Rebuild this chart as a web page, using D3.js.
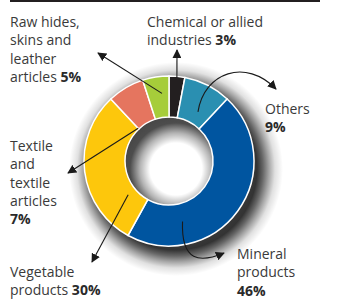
<!DOCTYPE html>
<html>
<head>
<meta charset="utf-8">
<script src="https://cdn.jsdelivr.net/npm/d3@7"></script>
<style>
  body { margin: 0; background: #fff; }
  text { font-family: "Open Sans", sans-serif; fill: #3a3a3a; }
  .pct { font-weight: 700; fill: #2a2a2a; }
</style>
</head>
<body>
<div id="container"></div>
<script>
/* DATA */
const categories = ["Chemical or allied industries", "Others", "Mineral products",
  "Vegetable products", "Textile and textile articles", "Raw hides, skins and leather articles"];
const shares = [3, 9, 46, 30, 7, 5];
const colors = ["#231f20", "#2a8fb1", "#0055a0", "#fdc70c", "#e5755f", "#a6cd3a"];
// label lines; an empty last line means the share sits on its own line
const labelLines = [
  ["Chemical or allied", "industries"],
  ["Others", ""],
  ["Mineral", "products", ""],
  ["Vegetable", "products"],
  ["Textile", "and", "textile", "articles", ""],
  ["Raw hides,", "skins and", "leather", "articles"]
];

/* CONSTANTS */
const width = 346, height = 300,
  cx = 169, cy = 161,
  outerR = 85, innerR = 44,
  lineH = 18.3,
  shadowDx = 7, shadowDy = 8, shadowSpread = 22;

// label anchors (x, first baseline)
const labelPos = [[147, 27], [265, 114], [237, 259], [10, 277], [10, 151], [10, 27]];
// arrow: start on slice (fraction along slice angle, radius), tip and optional curve controls
const arrows = [
  { f: 0.5, r: 84, tip: [177, 50] },
  { f: 0.61, r: 57, tip: [276, 89], c: [[204, 72], [246, 58]] },
  { f: 0.75, r: 62, tip: [224, 253], c: [[181, 262], [200, 263]] },
  { f: 0.2, r: 53, tip: [92, 262] },
  { f: 0.0, r: 45, tip: [68, 173] },
  { f: 0.67, r: 68, tip: [98, 53] }
];

const data = categories.map((c, i) => ({ name: c, value: shares[i], color: colors[i] }));

const svg = d3.select("#container").append("svg")
  .attr("width", width).attr("height", height);

const defs = svg.append("defs");

// soft ring shadow built from a radial gradient
const R = outerR + shadowSpread;
const grad = defs.append("radialGradient").attr("id", "ringShadow")
  .attr("gradientUnits", "userSpaceOnUse")
  .attr("cx", cx + shadowDx).attr("cy", cy + shadowDy).attr("r", R);
[[innerR - 18, 0], [innerR - 8, 0.3], [innerR + 2, 0.7], [outerR - 4, 0.8],
 [outerR + 2, 0.6], [outerR + 8, 0.35], [outerR + 14, 0.12], [R, 0]].forEach(([r, o]) => {
  grad.append("stop").attr("offset", r / R).attr("stop-color", "#000").attr("stop-opacity", o);
});

defs.append("marker").attr("id", "head")
  .attr("viewBox", "0 0 10 10").attr("refX", 9).attr("refY", 5)
  .attr("markerWidth", 9).attr("markerHeight", 9)
  .attr("markerUnits", "userSpaceOnUse").attr("orient", "auto")
  .append("path").attr("d", "M0,0L10,5L0,10z").attr("fill", "#1a1a1a");

// top rule
svg.append("rect").attr("x", 10).attr("y", 0).attr("width", 310).attr("height", 2).attr("fill", "#231f20");

// shadow
svg.append("circle").attr("cx", cx + shadowDx).attr("cy", cy + shadowDy).attr("r", R)
  .attr("fill", "url(#ringShadow)");

// PIE
const pie = d3.pie().value(d => d.value).sort(null);
const arcs = pie(data);
const arc = d3.arc().innerRadius(innerR).outerRadius(outerR);

const g = svg.append("g").attr("transform", `translate(${cx},${cy})`);
g.selectAll("path").data(arcs).join("path")
  .attr("d", arc).attr("fill", d => d.data.color)
  .attr("stroke", "#fff").attr("stroke-width", 1.5);

// ARROWS
const onSlice = (d, frac, r) => {
  const a = d.startAngle + (d.endAngle - d.startAngle) * frac;
  return [cx + r * Math.sin(a), cy - r * Math.cos(a)];
};
svg.append("g").selectAll("path").data(arcs).join("path")
  .attr("d", (d, i) => {
    const a = arrows[i], s = onSlice(d, a.f, a.r);
    if (a.c) return `M${s}C${a.c[0]} ${a.c[1]} ${a.tip}`;
    return `M${s}L${a.tip}`;
  })
  .attr("fill", "none").attr("stroke", "#1a1a1a").attr("stroke-width", 1.1)
  .attr("marker-end", "url(#head)");

// LABELS
const lab = svg.append("g").selectAll("text").data(data).join("text")
  .attr("font-size", 14);
lab.each(function (d, i) {
  const t = d3.select(this), lines = labelLines[i], [x, y] = labelPos[i];
  lines.forEach((ln, j) => {
    const last = j === lines.length - 1;
    if (ln) t.append("tspan").attr("x", x).attr("y", y + j * lineH).text(ln);
    if (last) {
      const p = t.append("tspan").attr("class", "pct").text((ln ? "\u00a0" : "") + d.value + "%");
      if (!ln) p.attr("x", x).attr("y", y + j * lineH);
    }
  });
});
</script>
</body>
</html>
